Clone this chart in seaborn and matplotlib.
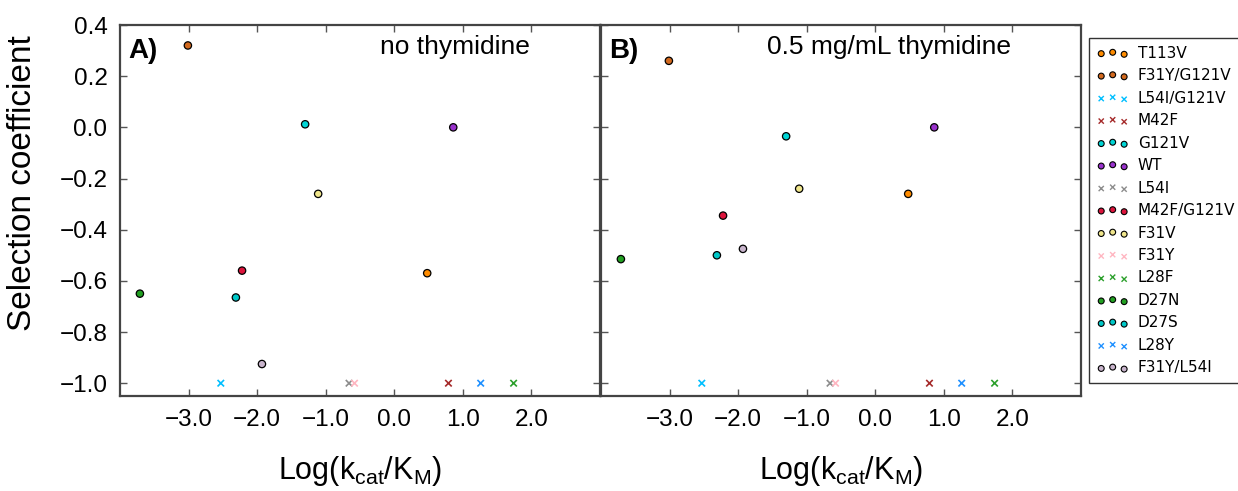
import matplotlib
matplotlib.use("Agg")
import matplotlib.pyplot as plt
import seaborn as sns
import pandas as pd

mutants = ["T113V", "F31Y/G121V", "L54I/G121V", "M42F", "G121V", "WT", "L54I",
           "M42F/G121V", "F31V", "F31Y", "L28F", "D27N", "D27S", "L28Y", "F31Y/L54I"]
colors = ["#ff8c00", "#d2691e", "#00bfff", "#a52a2a", "#00d5d5", "#9932cc", "#8c8c8c",
          "#dc143c", "#f0e68c", "#ffb6c1", "#2ca02c", "#22a022", "#00c8c8", "#1e90ff", "#c8b4cc"]
markers = ["o", "o", "x", "x", "o", "o", "x", "o", "o", "x", "x", "o", "o", "x", "o"]
log_kcat_km = [0.48, -3.01, -2.53, 0.79, -1.30, 0.86, -0.66, -2.22, -1.11, -0.58, 1.74,
               -3.71, -2.31, 1.26, -1.93]
sel_no_thy = [-0.57, 0.32, -1.0, -1.0, 0.012, 0.0, -1.0, -0.56, -0.26, -1.0, -1.0,
              -0.65, -0.665, -1.0, -0.925]
sel_thy = [-0.26, 0.26, -1.0, -1.0, -0.035, 0.0, -1.0, -0.345, -0.24, -1.0, -1.0,
           -0.515, -0.50, -1.0, -0.475]
panel_titles = ["no thymidine", "0.5 mg/mL thymidine"]
panel_letters = ["A)", "B)"]
xticks = [-3.0, -2.0, -1.0, 0.0, 1.0, 2.0]
yticks = [-1.0, -0.8, -0.6, -0.4, -0.2, 0.0, 0.2, 0.4]

sns.set_style("white")
plt.rcParams["font.family"] = ["Liberation Sans", "DejaVu Sans"]
plt.rcParams["mathtext.fontset"] = "custom"
plt.rcParams["mathtext.rm"] = "Liberation Sans"
plt.rcParams["mathtext.it"] = "Liberation Sans:italic"
plt.rcParams["axes.edgecolor"] = "#444444"
plt.rcParams["axes.linewidth"] = 1.6
plt.rcParams["text.color"] = "black"
plt.rcParams["axes.labelcolor"] = "black"
plt.rcParams["xtick.labelcolor"] = "black"
plt.rcParams["ytick.labelcolor"] = "black"

palette = dict(zip(mutants, colors))

fig = plt.figure(figsize=(12.38, 4.91), dpi=100)
W, H = 1238, 491
axA = fig.add_axes([120 / W, 1 - 396 / H, 480 / W, 371 / H])
axB = fig.add_axes([601 / W, 1 - 396 / H, 480 / W, 371 / H])

for ax, sel, title, letter, tx in [(axA, sel_no_thy, panel_titles[0], panel_letters[0], 0.698),
                                   (axB, sel_thy, panel_titles[1], panel_letters[1], 0.60)]:
    df = pd.DataFrame({"mutant": mutants, "x": log_kcat_km, "y": sel, "m": markers})
    circ = df[df.m == "o"]
    crs = df[df.m == "x"]
    sns.scatterplot(data=circ, x="x", y="y", hue="mutant", palette=palette, marker="o",
                    s=28, edgecolor="black", linewidth=0.9, legend=False, ax=ax, zorder=3)
    sns.scatterplot(data=crs, x="x", y="y", hue="mutant", palette=palette, marker="x",
                    s=22, linewidth=1.2, legend=False, ax=ax, zorder=3)
    ax.set_xlim(-4.0, 3.0)
    ax.set_ylim(-1.05, 0.4)
    ax.set_xticks(xticks)
    ax.set_yticks(yticks)
    ax.set_xticklabels([f"{t:.1f}".replace("-", "\u2212") for t in xticks])
    ax.tick_params(direction="in", length=5, width=1, color="#555555", top=True, right=True,
                   bottom=True, left=True, labelsize=17.5, pad=9, labelcolor="black")
    ax.set_xlabel(r"Log(k$_{\mathrm{cat}}$/K$_{\mathrm{M}}$)", fontsize=22, labelpad=17,
                  color="black")
    ax.text(0.017, 0.965, letter, transform=ax.transAxes, fontsize=20, fontweight="bold",
            ha="left", va="top", color="black")
    ax.text(tx, 0.94, title, transform=ax.transAxes, fontsize=19, ha="center", va="center",
            color="black")

axA.set_yticklabels([f"{t:.1f}".replace("-", "\u2212") for t in yticks])
axA.set_ylabel("Selection coefficient", fontsize=24, color="black")
axA.yaxis.set_label_coords(-0.171, 0.574)
axB.set_yticklabels([])
axB.set_ylabel("")

handles = []
for name, c, m in zip(mutants, colors, markers):
    if m == "o":
        h = axB.scatter([], [], marker="o", s=18, facecolor=c, edgecolor="black", linewidth=0.8)
    else:
        h = axB.scatter([], [], marker="x", s=14, color=c, linewidth=1.0)
    handles.append(h)
leg = fig.legend(handles, mutants, loc="upper left", bbox_to_anchor=(1089 / W, 1 - 38 / H),
                 scatterpoints=3, frameon=True, fancybox=False, edgecolor="black",
                 prop={"family": "DejaVu Sans", "size": 11}, labelspacing=0.49,
                 handletextpad=0.6, borderpad=0.5, handlelength=2.1, borderaxespad=0,
                 labelcolor="black")
leg.get_frame().set_linewidth(1.0)

fig.savefig("out.png", dpi=100)
